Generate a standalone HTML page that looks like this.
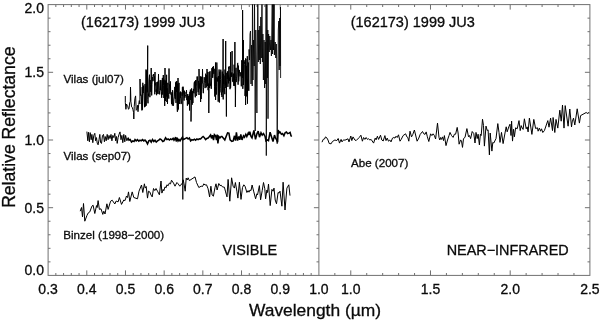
<!DOCTYPE html>
<html><head><meta charset="utf-8"><title>1999 JU3 spectra</title>
<style>html,body{margin:0;padding:0;background:#fff}svg{display:block}</style></head>
<body>
<svg width="600" height="321" viewBox="0 0 600 321">
<rect width="600" height="321" fill="#fff"/>
<g stroke="#707070" stroke-width="1" fill="none">
<rect x="48.1" y="4.6" width="541.8" height="270.79999999999995"/>
<line x1="318.9" y1="4.6" x2="318.9" y2="275.4"/>
</g>
<path d="M48.10 261.86h2.40M318.90 261.86h-2.40M589.90 261.86h-2.40M48.10 248.32h2.40M318.90 248.32h-2.40M589.90 248.32h-2.40M48.10 234.78h2.40M318.90 234.78h-2.40M589.90 234.78h-2.40M48.10 221.24h2.40M318.90 221.24h-2.40M589.90 221.24h-2.40M48.10 207.70h5.00M318.90 207.70h-5.00M589.90 207.70h-5.00M48.10 194.16h2.40M318.90 194.16h-2.40M589.90 194.16h-2.40M48.10 180.62h2.40M318.90 180.62h-2.40M589.90 180.62h-2.40M48.10 167.08h2.40M318.90 167.08h-2.40M589.90 167.08h-2.40M48.10 153.54h2.40M318.90 153.54h-2.40M589.90 153.54h-2.40M48.10 140.00h5.00M318.90 140.00h-5.00M589.90 140.00h-5.00M48.10 126.46h2.40M318.90 126.46h-2.40M589.90 126.46h-2.40M48.10 112.92h2.40M318.90 112.92h-2.40M589.90 112.92h-2.40M48.10 99.38h2.40M318.90 99.38h-2.40M589.90 99.38h-2.40M48.10 85.84h2.40M318.90 85.84h-2.40M589.90 85.84h-2.40M48.10 72.30h5.00M318.90 72.30h-5.00M589.90 72.30h-5.00M48.10 58.76h2.40M318.90 58.76h-2.40M589.90 58.76h-2.40M48.10 45.22h2.40M318.90 45.22h-2.40M589.90 45.22h-2.40M48.10 31.68h2.40M318.90 31.68h-2.40M589.90 31.68h-2.40M48.10 18.14h2.40M318.90 18.14h-2.40M589.90 18.14h-2.40M55.84 275.4v-2.40M55.84 4.6v2.40M63.57 275.4v-2.40M63.57 4.6v2.40M71.31 275.4v-2.40M71.31 4.6v2.40M79.05 275.4v-2.40M79.05 4.6v2.40M86.79 275.4v-5.00M86.79 4.6v5.00M94.52 275.4v-2.40M94.52 4.6v2.40M102.26 275.4v-2.40M102.26 4.6v2.40M110.00 275.4v-2.40M110.00 4.6v2.40M117.73 275.4v-2.40M117.73 4.6v2.40M125.47 275.4v-5.00M125.47 4.6v5.00M133.21 275.4v-2.40M133.21 4.6v2.40M140.95 275.4v-2.40M140.95 4.6v2.40M148.68 275.4v-2.40M148.68 4.6v2.40M156.42 275.4v-2.40M156.42 4.6v2.40M164.16 275.4v-5.00M164.16 4.6v5.00M171.89 275.4v-2.40M171.89 4.6v2.40M179.63 275.4v-2.40M179.63 4.6v2.40M187.37 275.4v-2.40M187.37 4.6v2.40M195.11 275.4v-2.40M195.11 4.6v2.40M202.84 275.4v-5.00M202.84 4.6v5.00M210.58 275.4v-2.40M210.58 4.6v2.40M218.32 275.4v-2.40M218.32 4.6v2.40M226.05 275.4v-2.40M226.05 4.6v2.40M233.79 275.4v-2.40M233.79 4.6v2.40M241.53 275.4v-5.00M241.53 4.6v5.00M249.27 275.4v-2.40M249.27 4.6v2.40M257.00 275.4v-2.40M257.00 4.6v2.40M264.74 275.4v-2.40M264.74 4.6v2.40M272.48 275.4v-2.40M272.48 4.6v2.40M280.21 275.4v-5.00M280.21 4.6v5.00M287.95 275.4v-2.40M287.95 4.6v2.40M295.69 275.4v-2.40M295.69 4.6v2.40M303.43 275.4v-2.40M303.43 4.6v2.40M311.16 275.4v-2.40M311.16 4.6v2.40M334.84 275.4v-2.40M334.84 4.6v2.40M350.78 275.4v-5.00M350.78 4.6v5.00M366.72 275.4v-2.40M366.72 4.6v2.40M382.66 275.4v-2.40M382.66 4.6v2.40M398.61 275.4v-2.40M398.61 4.6v2.40M414.55 275.4v-2.40M414.55 4.6v2.40M430.49 275.4v-5.00M430.49 4.6v5.00M446.43 275.4v-2.40M446.43 4.6v2.40M462.37 275.4v-2.40M462.37 4.6v2.40M478.31 275.4v-2.40M478.31 4.6v2.40M494.25 275.4v-2.40M494.25 4.6v2.40M510.19 275.4v-5.00M510.19 4.6v5.00M526.14 275.4v-2.40M526.14 4.6v2.40M542.08 275.4v-2.40M542.08 4.6v2.40M558.02 275.4v-2.40M558.02 4.6v2.40M573.96 275.4v-2.40M573.96 4.6v2.40" stroke="#707070" stroke-width="1" fill="none"/>
<g font-family="'Liberation Sans', Arial, sans-serif" fill="#0a0a0a" stroke="#0a0a0a" stroke-width="0.3">
<g font-size="14px" text-anchor="end">
<text x="44" y="275.4">0.0</text>
<text x="44" y="212.7">0.5</text>
<text x="44" y="145.0">1.0</text>
<text x="44" y="77.3">1.5</text>
<text x="44" y="12.6">2.0</text>
</g>
<g font-size="14px" text-anchor="middle">
<text x="48.1" y="293.5">0.3</text>
<text x="86.8" y="293.5">0.4</text>
<text x="125.5" y="293.5">0.5</text>
<text x="164.2" y="293.5">0.6</text>
<text x="202.8" y="293.5">0.7</text>
<text x="241.5" y="293.5">0.8</text>
<text x="280.2" y="293.5">0.9</text>
<text x="318.9" y="293.5">1.0</text>
<text x="350.8" y="293.5">1.0</text>
<text x="430.5" y="293.5">1.5</text>
<text x="510.2" y="293.5">2.0</text>
<text x="589.9" y="293.5">2.5</text>
</g>
<text x="81" y="27" font-size="14.5px">(162173) 1999 JU3</text>
<text x="350.7" y="27" font-size="14.5px">(162173) 1999 JU3</text>
<g font-size="11.6px">
<text x="63.5" y="82.7">Vilas (jul07)</text>
<text x="63.5" y="160">Vilas (sep07)</text>
<text x="63.3" y="238.6">Binzel (1998−2000)</text>
<text x="351" y="166.5">Abe (2007)</text>
</g>
<g font-size="14.45px">
<text x="222.5" y="255">VISIBLE</text>
<text x="446.7" y="255" font-size="14.4px">NEAR−INFRARED</text>
</g>
<text x="315" y="315.5" font-size="17.4px" text-anchor="middle">Wavelength (µm)</text>
<text transform="translate(15.3,127.2) rotate(-90)" font-size="17.6px" text-anchor="middle">Relative Reflectance</text>
</g>
<defs><clipPath id="pc"><rect x="48.1" y="4.6" width="541.8" height="270.79999999999995"/></clipPath></defs><g clip-path="url(#pc)">
<path d="M125.3 96.0 125.3 102.4 125.9 109.3 126.5 104.0 127.0 105.2 127.7 106.2 128.5 109.3 129.1 108.4 129.7 102.5 130.3 101.4 130.5 87.0 130.9 101.7 131.6 106.9 132.3 107.4 132.9 109.6 133.6 112.5 133.8 119.0 134.2 106.8 134.9 98.5 135.6 95.9 136.2 110.3 137.0 109.2 137.5 105.3 138.0 111.7 138.7 104.5 139.3 100.6 139.9 104.0 140.0 79.0 140.5 95.5 141.2 94.8 141.9 110.4 142.2 87.1 142.5 109.6 142.8 82.8 143.1 93.0 143.5 85.7 143.8 91.6 144.1 95.9 144.5 107.2 144.8 102.2 145.0 84.1 145.4 106.5 145.6 85.8 145.9 85.4 146.0 69.5 146.2 105.7 146.5 70.5 146.9 86.0 147.2 92.4 147.4 91.8 147.7 45.6 147.7 99.3 148.0 103.3 148.3 93.7 148.6 96.2 148.9 81.1 149.2 77.9 149.5 74.7 149.9 97.2 150.1 80.0 150.5 84.5 150.8 91.8 151.1 80.6 151.2 68.0 151.4 81.9 151.7 95.4 152.0 84.7 152.3 76.9 152.6 77.7 152.9 81.2 153.1 74.8 153.4 75.8 153.7 74.0 154.0 78.6 154.2 80.6 154.5 76.5 154.8 94.3 155.0 72.0 155.1 85.4 155.4 82.9 155.7 82.8 156.0 91.8 156.3 89.5 156.6 95.2 156.9 82.1 157.2 93.7 157.5 89.6 157.8 81.7 158.1 94.1 158.4 79.7 158.5 74.0 158.6 80.6 159.0 85.8 159.3 90.3 159.7 94.4 160.0 90.7 160.2 80.1 160.5 90.2 160.8 81.3 161.1 80.3 161.4 91.7 161.7 97.8 162.0 87.8 162.4 77.9 162.7 94.6 163.0 86.9 163.3 75.0 163.6 85.5 163.9 98.0 164.1 79.7 164.5 82.6 164.7 105.9 165.0 68.0 165.1 77.6 165.4 101.0 165.7 80.5 166.0 92.9 166.3 96.5 166.6 74.8 166.9 102.0 167.2 88.2 167.5 103.9 167.8 82.8 168.2 92.3 168.5 94.5 168.8 98.6 169.0 68.5 169.2 84.8 169.5 84.4 169.8 93.7 170.1 90.0 170.4 81.4 170.7 94.1 171.0 94.6 171.2 93.9 171.5 103.9 171.7 92.4 172.0 93.2 172.3 105.4 172.6 90.2 172.9 93.0 173.2 105.9 173.5 104.9 173.8 101.1 174.1 98.3 174.4 96.9 174.7 86.9 175.0 87.3 175.3 99.0 175.7 82.4 176.0 102.9 176.2 81.7 176.5 92.0 176.8 81.0 177.1 106.5 177.4 111.8 177.7 83.6 178.0 110.2 178.0 78.0 178.3 108.9 178.6 99.1 179.0 82.9 179.3 104.0 179.5 101.3 179.8 95.0 180.0 92.4 180.3 97.8 180.5 91.6 180.9 104.0 181.2 104.0 181.5 103.5 181.9 92.3 182.1 95.8 182.4 87.2 182.7 94.6 182.9 86.6 183.2 86.8 183.5 90.3 183.7 94.1 184.1 100.6 184.4 90.7 184.6 97.0 184.9 97.8 185.3 96.7 185.6 94.6 185.9 92.2 186.2 92.8 186.5 90.2 186.8 100.1 187.1 95.4 187.4 105.7 187.7 94.0 188.0 100.8 188.3 104.2 188.6 96.0 188.9 104.1 189.3 94.4 189.6 110.5 189.9 91.8 190.2 94.7 190.4 89.6 190.7 100.0 191.0 92.4 191.0 121.5 191.2 111.0 191.6 88.4 191.9 101.4 192.2 104.7 192.5 91.3 192.9 103.0 193.2 90.3 193.5 88.9 193.8 93.2 194.1 83.2 194.5 81.5 194.7 91.7 195.0 94.1 195.3 97.3 195.6 80.4 195.9 85.6 196.0 80.0 196.3 93.6 196.5 95.8 196.8 93.7 197.1 76.5 197.3 80.1 197.6 76.8 197.9 88.2 198.2 92.1 198.5 81.0 198.7 80.9 199.0 95.0 199.0 69.0 199.3 87.6 199.7 83.5 200.0 89.2 200.3 76.3 200.6 80.6 200.6 102.0 200.8 77.0 201.2 99.0 201.5 82.7 201.7 76.7 202.1 83.4 202.4 76.8 202.5 69.0 202.7 79.4 203.0 89.4 203.3 93.2 203.6 87.3 203.9 82.4 204.2 77.2 204.5 80.3 204.8 83.0 205.1 88.1 205.4 83.5 205.7 73.7 206.0 80.9 206.3 87.4 206.6 75.0 206.9 79.1 207.0 69.0 207.2 75.8 207.5 85.9 207.8 71.9 208.1 90.2 208.4 83.8 208.7 83.5 208.8 113.0 209.0 83.8 209.2 72.0 209.3 86.9 209.6 87.8 210.0 71.2 210.2 77.7 210.5 85.6 210.8 84.1 211.2 88.9 211.4 88.6 211.8 68.2 212.0 68.6 212.4 76.9 212.5 67.0 212.7 77.9 213.1 72.6 213.4 66.2 213.6 69.9 213.9 73.8 214.2 68.8 214.5 86.9 214.8 96.5 215.1 72.4 215.4 69.4 215.5 62.5 215.6 100.0 215.7 87.3 216.1 77.2 216.4 94.5 216.6 86.6 216.8 62.5 216.9 65.1 217.2 75.9 217.5 81.4 217.9 77.7 218.2 101.7 218.5 76.2 218.8 95.5 219.1 69.5 219.4 102.5 219.4 86.8 219.7 71.8 219.9 92.4 220.2 88.6 220.5 79.6 220.8 69.7 221.1 78.7 221.4 94.9 221.7 92.6 222.0 97.0 222.3 71.6 222.6 92.3 222.9 90.0 223.1 39.0 223.2 99.4 223.2 82.0 223.5 73.9 223.8 84.0 224.0 75.6 224.3 86.2 224.5 88.9 224.8 94.2 225.0 69.5 225.3 85.4 225.6 71.2 225.7 41.0 225.8 88.0 226.2 81.9 226.4 116.5 226.5 85.9 226.7 72.9 227.0 73.0 227.2 78.9 227.6 71.3 227.9 86.9 228.1 75.5 228.4 83.4 228.7 67.0 228.9 68.9 229.2 66.2 229.5 80.8 229.7 77.6 230.0 89.2 230.3 81.1 230.6 52.0 230.6 87.8 230.9 73.3 231.3 76.7 231.6 72.6 231.9 76.6 232.1 51.0 232.2 71.6 232.5 81.6 232.8 81.9 233.1 82.1 233.4 73.6 233.8 85.9 234.1 64.7 234.4 71.3 234.7 86.0 234.9 42.0 235.0 80.2 235.3 90.7 235.4 107.0 235.7 78.5 236.0 67.8 236.2 82.1 236.5 78.2 236.8 76.3 237.1 72.5 237.5 63.4 237.8 62.9 238.1 84.7 238.4 65.6 238.7 81.4 239.0 77.4 239.3 69.9 239.5 71.9 239.8 73.7 240.1 76.3 240.4 72.4 240.7 72.9 241.0 76.1 241.3 86.3 241.7 60.3 242.0 62.7 242.2 75.9 242.6 77.9 242.6 10.0 242.8 88.8 243.1 78.2 243.4 40.0 243.4 85.0 243.7 80.5 244.0 60.2 244.4 61.8 244.7 64.6 245.0 95.9 245.3 90.5 245.6 58.4 245.6 105.0 245.9 59.1 246.2 73.7 246.4 65.9 246.7 96.4 247.0 75.6 247.3 56.2 247.5 103.7 247.6 79.6 248.0 90.1 248.3 62.5 248.5 71.0 248.8 90.8 249.1 49.4" stroke="#000" stroke-width="1.0" fill="none" stroke-linejoin="miter" stroke-miterlimit="3"/>
<path d="M249.1 49.4 249.5 60.0 250.0 34.0 250.5 31.0 251.0 84.0 251.6 45.0 252.2 86.0 252.5 -5.0 253.0 80.0 253.6 40.0 254.2 66.0 254.5 -5.0 255.2 131.0 255.8 30.0 256.3 60.0 256.9 113.0 257.8 -5.0 258.3 62.0 258.8 30.0 259.3 60.0 259.8 26.0 260.3 64.0 260.8 17.0 261.3 58.0 261.7 20.0 262.0 -5.0 262.4 62.0 262.9 34.0 263.4 80.0 264.0 40.0 264.6 88.0 265.2 42.0 265.7 84.0 266.1 -5.0 266.3 155.6 266.9 -5.0 267.4 78.0 267.8 30.0 268.0 118.7 268.6 34.0 269.2 52.0 269.8 36.0 270.4 50.0 271.0 40.0 271.4 56.0 272.3 -5.0 272.6 54.0 273.3 -5.0 273.5 50.0 274.2 -5.0 274.4 55.0 275.2 42.0 275.8 58.0 276.3 44.0 276.7 60.0 277.2 143.7 278.3 30.0 278.8 21.0 279.2 70.0 279.6 18.0 280.0 66.0 280.5 7.0 280.6 78.0" stroke="#000" stroke-width="0.85" fill="none" stroke-linejoin="miter" stroke-miterlimit="3"/>
<path d="M182.8 90.0 182.8 199.4" stroke="#000" stroke-width="1.3" fill="none" stroke-linejoin="miter" stroke-miterlimit="3"/>
<path d="M86.9 131.6 87.8 140.8 88.5 132.3 89.4 141.8 90.2 132.6 91.2 139.7 91.9 134.4 92.8 142.7 93.8 135.4 94.8 133.3 95.6 140.8 96.5 137.6 97.2 143.1 98.1 144.8 99.0 139.7 99.8 134.4 100.6 142.7 101.5 143.4 102.5 135.4 103.5 134.4 104.4 141.8 105.2 136.5 106.2 140.8 107.2 134.4 108.1 139.7 109.0 135.4 110.0 138.6 111.0 134.4 111.9 140.8 112.8 135.4 113.8 137.6 114.8 133.3 115.6 140.8 116.5 136.5 117.2 143.4 118.1 137.6 119.0 134.4 120.0 131.9 121.0 139.7 121.9 135.4 122.8 142.7 123.8 134.4 124.8 141.8 125.6 135.4 126.9 140.8 128.1 137.6" stroke="#000" stroke-width="1.0" fill="none" stroke-linejoin="miter" stroke-miterlimit="3"/>
<path d="M128.1 137.8 129.0 140.2 130.2 139.6 131.5 142.1 132.8 140.9 134.0 141.5 135.0 139.6 136.2 140.9 137.5 139.6 138.8 141.2 140.0 140.2 141.2 140.9 142.5 139.6 143.8 140.9 145.0 140.0 146.2 141.5 147.5 144.0 148.8 140.9 150.0 140.2 151.2 142.1 152.5 139.6 153.8 141.5 155.0 140.2 156.2 142.1 157.5 140.9 158.8 140.2 160.0 139.0 161.2 139.6 162.8 141.5 164.0 140.9 165.6 137.8 166.9 139.6 168.1 139.0 169.4 140.0 170.6 139.0 171.9 139.6 173.1 138.4 174.0 140.2 174.8 139.0 175.6 137.1 176.2 141.5 177.2 137.8 178.1 140.9 179.0 139.6 180.0 140.9 181.2 139.0 182.5 137.1 183.1 139.6 184.4 139.0 185.6 138.4 186.9 137.8 188.1 139.0 189.4 138.0 190.6 140.9 191.9 139.6 193.1 140.2 194.4 139.2 195.6 140.2 196.9 139.0 198.1 139.6 199.4 138.8 200.6 139.0 201.9 137.5 203.1 136.5 204.4 137.8 205.6 139.6 206.9 138.4 208.1 138.0 209.4 136.5 210.6 135.0 211.5 138.4 212.5 135.2 213.5 140.2 214.4 134.6 215.6 135.9 216.5 140.2 217.2 134.6 217.9 143.4 218.8 136.5 220.0 137.8 221.2 136.5 222.0 136.5 224.8 139.9 227.6 132.8 228.9 133.1 230.1 139.9 231.8 141.4 233.2 140.9 234.5 135.8 235.5 140.6 236.4 132.4 237.6 140.6 238.9 136.5 239.8 139.9 240.8 134.3 242.0 139.9 243.5 135.8 244.5 137.2 245.8 134.3 246.8 136.5 248.2 133.1 248.9 135.1 249.8 131.8 251.0 136.5 252.0 137.9 253.9 130.4 255.5 139.4 257.0 133.6 258.2 131.1 259.5 137.2 261.0 132.8 262.2 135.1 263.5 133.6 265.1 136.5 266.0 140.9 267.6 139.9 268.5 140.6 270.1 132.1 271.4 136.5 273.0 141.6 274.5 135.1 275.5 137.9 276.8 140.2 277.6 142.3 278.2 130.0 279.2 132.8 280.1 132.1 281.4 134.3 282.6 133.6 283.9 135.8 285.1 132.8 286.4 132.1 287.6 133.6 288.9 133.1 290.1 132.4 291.0 135.8 291.8 136.5" stroke="#000" stroke-width="1.55" fill="none" stroke-linejoin="miter" stroke-miterlimit="3"/>
<path d="M80.2 211.2 81.5 207.5 82.5 216.9 83.5 203.5 84.8 221.2 86.9 215.6 88.1 213.1 89.8 211.9 91.9 206.2 93.1 205.2 94.8 213.5 96.5 205.6 97.2 207.5 98.1 200.6 99.4 209.4 101.0 208.8 102.8 214.4 103.8 211.2 105.0 214.0 106.9 203.8 108.1 209.4 110.6 201.2 112.2 200.2 114.8 204.0 116.2 201.0 118.1 201.9 119.4 197.5 121.5 204.4 123.8 200.0 125.0 200.6 126.5 196.0 127.5 197.5 128.5 191.9 129.8 201.5 132.2 191.9 133.8 197.5 137.5 198.8 139.0 191.2 141.5 185.0 142.8 192.5 144.4 183.8 145.2 188.1 146.2 186.5 147.5 198.1 148.5 191.2 149.8 191.9 151.0 195.0 152.2 196.9 153.5 188.5 154.8 190.6 156.0 188.5 157.5 191.2 159.4 194.8 161.0 181.0 161.9 193.1 163.1 189.4 163.8 190.8 165.0 186.8 166.1 187.8 166.9 184.8 168.1 185.8 169.4 183.0 170.5 183.9 171.5 180.2 173.5 183.1 175.0 186.2 176.9 182.5 178.1 183.8 179.8 186.2 181.0 184.4 182.2 183.8 183.2 179.8 184.0 183.8 185.2 191.2 186.2 178.1 187.2 180.0 188.1 177.8 189.4 180.6 195.0 176.9 196.5 182.5 198.8 187.5 201.2 186.2 202.5 186.5 203.8 183.8 205.0 185.0 206.5 184.8 208.1 188.8 209.6 196.9 210.9 186.2 212.1 195.0 213.4 196.2 215.0 187.5 216.0 183.8 217.1 190.0 218.8 183.5 220.0 185.6 221.2 185.2 222.5 186.9 224.4 187.2 225.6 191.9 227.0 196.9 228.1 179.4 229.8 201.2 231.6 177.8 233.1 186.2 234.4 188.1 235.4 182.5 236.9 191.2 237.9 198.1 239.4 182.2 241.0 199.4 242.5 187.5 243.8 184.8 245.0 186.2 246.9 192.5 248.1 190.6 249.0 192.2 250.0 190.0 251.0 190.6 252.1 185.0 253.8 191.9 255.6 198.8 256.9 193.8 257.5 195.0 259.4 185.6 260.6 199.8 262.2 190.6 263.5 182.5 264.8 188.8 265.6 198.8 266.9 190.0 267.5 192.5 268.5 184.0 270.2 205.6 271.9 189.4 273.1 191.2 274.0 188.1 275.2 200.0 276.5 203.8 278.1 192.5 279.0 193.1 280.0 191.2 281.9 206.2 283.1 182.2 285.0 210.0 286.9 188.1 288.8 184.8 290.0 195.6" stroke="#000" stroke-width="1.0" fill="none" stroke-linejoin="miter" stroke-miterlimit="3"/>
<path d="M322.0 142.2 323.2 139.4 324.5 139.0 325.5 136.9 327.0 138.1 328.0 140.0 329.2 143.5 331.1 143.8 332.4 141.5 334.9 140.0 336.8 140.6 338.2 138.5 339.5 143.1 341.1 139.4 342.0 141.9 343.6 139.8 344.9 140.2 348.0 138.8 349.0 141.9 350.8 136.0 351.8 140.6 353.0 136.9 354.9 140.0 356.1 140.6 359.2 137.5 360.9 135.2 362.4 141.2 363.6 137.5 364.9 139.4 366.1 137.5 367.4 139.4 368.6 138.8 369.9 140.0 371.1 139.4 373.6 143.1 375.2 138.1 376.1 139.8 377.4 136.2 378.6 139.4 380.5 135.2 381.8 140.0 383.2 141.0 384.9 135.6 386.0 140.6 387.2 138.1 388.5 141.2 389.8 140.0 391.0 141.9 392.5 138.1 393.8 137.5 395.0 138.1 396.0 136.2 397.2 137.5 398.5 134.8 400.0 141.2 401.2 139.4 403.1 135.6 405.6 133.8 406.9 136.9 407.8 137.5 408.8 141.2 410.0 131.2 411.5 136.9 412.8 134.4 414.4 130.0 415.6 135.0 417.1 141.2 418.8 138.1 420.2 134.4 422.5 131.5 423.8 133.8 425.0 134.4 426.2 131.9 427.2 136.2 428.8 141.5 430.6 133.8 431.9 135.6 433.1 133.8 434.4 135.6 435.6 139.0 437.5 123.1 439.0 137.5 439.8 140.0 440.6 137.5 441.5 139.4 442.5 136.9 443.5 140.6 444.4 135.6 446.0 145.6 447.5 140.0 449.0 135.6 450.0 132.4 451.5 135.5 453.1 137.4 454.4 134.2 455.6 134.2 457.2 127.4 458.1 133.0 459.1 144.2 460.6 139.9 461.5 141.1 462.5 147.4 463.5 138.6 465.0 137.4 466.9 128.6 468.5 136.8 469.4 135.5 470.6 138.6 472.2 131.5 473.8 133.6 475.0 143.0 476.0 132.4 477.2 138.6 478.1 134.2 479.4 144.9 480.4 134.2 481.2 135.5 482.5 119.2 483.5 125.5 484.4 146.1 486.0 126.1 487.2 130.5 488.1 129.9 489.4 154.9 490.2 133.0 491.9 151.1 492.8 142.4 493.8 143.0 496.0 138.6 497.8 123.6 499.0 132.4 500.0 142.4 501.5 132.4 503.1 143.6 505.0 133.0 506.2 126.8 507.2 131.8 508.8 126.8 510.0 124.2 511.0 135.5 511.6 121.1 512.5 141.1 513.5 129.2 514.4 136.8 515.6 127.8 517.2 128.8 519.0 120.6 520.2 130.6 521.2 125.6 522.2 128.1 523.1 129.4 524.4 118.8 526.2 128.8 527.2 126.9 528.1 131.9 529.4 118.1 531.9 134.4 533.8 119.4 535.6 128.5 537.5 127.8 538.1 131.2 539.4 128.1 540.6 131.2 541.5 128.8 542.8 132.5 544.4 130.6 547.8 120.6 549.0 127.2 550.6 118.1 552.5 130.6 553.1 117.5 554.8 132.5 556.0 119.4 557.8 128.1 559.8 110.2 561.2 121.2 562.5 105.0 564.0 128.1 565.2 105.6 568.1 126.2 569.8 109.0 571.5 126.9 572.2 121.9 573.5 118.1 574.8 125.0 577.2 108.8 579.4 123.1 580.6 115.6 586.2 112.5 587.5 113.5 588.8 112.5" stroke="#000" stroke-width="1.0" fill="none" stroke-linejoin="miter" stroke-miterlimit="3"/>
</g>
</svg>
</body></html>
